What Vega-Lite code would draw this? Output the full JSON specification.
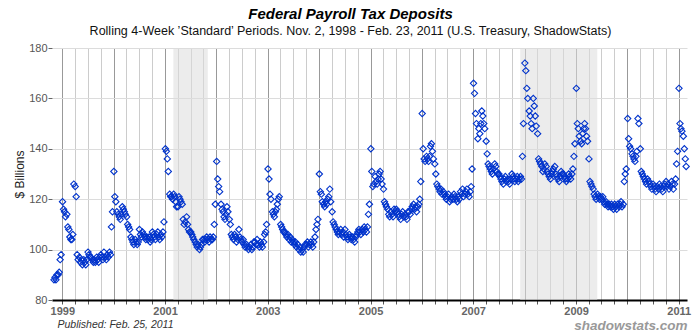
{
"$schema": "https://vega.github.io/schema/vega-lite/v6.json",
"width": 635, "height": 252,
"autosize": "none",
"padding": {"left": 52, "top": 48, "right": 13, "bottom": 35},
"background": "white",
"config": {"view": {"stroke": null}},
"title": {"text": "Federal Payroll Tax Deposits", "subtitle": "Rolling 4-Week ’Standard’ Periods. Nov. 2, 1998 - Feb. 23, 2011  (U.S. Treasury, ShadowStats)", "font": "Liberation Sans", "fontSize": 15, "fontStyle": "italic", "fontWeight": "bold", "color": "#000", "subtitleFont": "Liberation Sans", "subtitleFontSize": 12.5, "subtitleColor": "#111", "anchor": "middle", "frame": "group", "dx": -19, "offset": 5, "subtitlePadding": 3},
"datasets": {
"rec": [{"date": "2001-03-01", "end": "2001-11-01"}, {"date": "2007-12-01", "end": "2009-06-01"}],
"foot": [{"t": "shadowstats.com", "date": "2011-03-04", "value": 69.5}],
"pts": [
{"date":"1998-11-03","value":88},{"date":"1998-11-10","value":89},{"date":"1998-11-17","value":88},{"date":"1998-11-24","value":90},
{"date":"1998-12-03","value":90},{"date":"1998-12-10","value":91},{"date":"1998-12-17","value":96},{"date":"1998-12-24","value":98},
{"date":"1999-01-03","value":119},{"date":"1999-01-10","value":116},{"date":"1999-01-17","value":115},{"date":"1999-01-24","value":113},
{"date":"1999-02-03","value":114},{"date":"1999-02-10","value":109},{"date":"1999-02-17","value":108},{"date":"1999-02-24","value":105},
{"date":"1999-03-03","value":104},{"date":"1999-03-10","value":104},{"date":"1999-03-17","value":106},{"date":"1999-03-24","value":126},
{"date":"1999-04-03","value":125},{"date":"1999-04-10","value":121},{"date":"1999-04-17","value":98},{"date":"1999-04-24","value":96},
{"date":"1999-05-03","value":97},{"date":"1999-05-10","value":95},{"date":"1999-05-17","value":96},{"date":"1999-05-24","value":94},
{"date":"1999-06-03","value":96},{"date":"1999-06-10","value":95},{"date":"1999-06-17","value":94},{"date":"1999-06-24","value":96},
{"date":"1999-07-03","value":99},{"date":"1999-07-10","value":98},{"date":"1999-07-17","value":97},{"date":"1999-07-24","value":97},
{"date":"1999-08-03","value":96},{"date":"1999-08-10","value":95},{"date":"1999-08-17","value":96},{"date":"1999-08-24","value":95},
{"date":"1999-09-03","value":97},{"date":"1999-09-10","value":96},{"date":"1999-09-17","value":95},{"date":"1999-09-24","value":97},
{"date":"1999-10-03","value":98},{"date":"1999-10-10","value":97},{"date":"1999-10-17","value":96},{"date":"1999-10-24","value":99},
{"date":"1999-11-03","value":97},{"date":"1999-11-10","value":96},{"date":"1999-11-17","value":98},{"date":"1999-11-24","value":97},
{"date":"1999-12-03","value":99},{"date":"1999-12-10","value":98},{"date":"1999-12-17","value":109},{"date":"1999-12-24","value":115},
{"date":"2000-01-03","value":131},{"date":"2000-01-10","value":121},{"date":"2000-01-17","value":119},{"date":"2000-01-24","value":115},
{"date":"2000-02-03","value":114},{"date":"2000-02-10","value":113},{"date":"2000-02-17","value":112},{"date":"2000-02-24","value":114},
{"date":"2000-03-03","value":117},{"date":"2000-03-10","value":116},{"date":"2000-03-17","value":115},{"date":"2000-03-24","value":114},
{"date":"2000-04-03","value":113},{"date":"2000-04-10","value":110},{"date":"2000-04-17","value":109},{"date":"2000-04-24","value":108},
{"date":"2000-05-03","value":105},{"date":"2000-05-10","value":104},{"date":"2000-05-17","value":103},{"date":"2000-05-24","value":102},
{"date":"2000-06-03","value":104},{"date":"2000-06-10","value":103},{"date":"2000-06-17","value":102},{"date":"2000-06-24","value":103},
{"date":"2000-07-03","value":108},{"date":"2000-07-10","value":106},{"date":"2000-07-17","value":105},{"date":"2000-07-24","value":107},
{"date":"2000-08-03","value":106},{"date":"2000-08-10","value":105},{"date":"2000-08-17","value":104},{"date":"2000-08-24","value":105},
{"date":"2000-09-03","value":104},{"date":"2000-09-10","value":105},{"date":"2000-09-17","value":103},{"date":"2000-09-24","value":104},
{"date":"2000-10-03","value":107},{"date":"2000-10-10","value":106},{"date":"2000-10-17","value":105},{"date":"2000-10-24","value":104},
{"date":"2000-11-03","value":106},{"date":"2000-11-10","value":107},{"date":"2000-11-17","value":105},{"date":"2000-11-24","value":104},
{"date":"2000-12-03","value":106},{"date":"2000-12-10","value":105},{"date":"2000-12-17","value":107},{"date":"2000-12-24","value":111},
{"date":"2001-01-03","value":140},{"date":"2001-01-10","value":139},{"date":"2001-01-17","value":136},{"date":"2001-01-24","value":131},
{"date":"2001-02-03","value":122},{"date":"2001-02-10","value":121},{"date":"2001-02-17","value":121},{"date":"2001-02-24","value":120},
{"date":"2001-03-03","value":122},{"date":"2001-03-10","value":121},{"date":"2001-03-17","value":119},{"date":"2001-03-24","value":117},
{"date":"2001-04-03","value":117},{"date":"2001-04-10","value":121},{"date":"2001-04-17","value":120},{"date":"2001-04-24","value":119},
{"date":"2001-05-03","value":118},{"date":"2001-05-10","value":112},{"date":"2001-05-17","value":110},{"date":"2001-05-24","value":111},
{"date":"2001-06-03","value":113},{"date":"2001-06-10","value":110},{"date":"2001-06-17","value":108},{"date":"2001-06-24","value":107},
{"date":"2001-07-03","value":107},{"date":"2001-07-10","value":106},{"date":"2001-07-17","value":105},{"date":"2001-07-24","value":104},
{"date":"2001-08-03","value":103},{"date":"2001-08-10","value":102},{"date":"2001-08-17","value":101},{"date":"2001-08-24","value":102},
{"date":"2001-09-03","value":100},{"date":"2001-09-10","value":101},{"date":"2001-09-17","value":102},{"date":"2001-09-24","value":104},
{"date":"2001-10-03","value":104},{"date":"2001-10-10","value":103},{"date":"2001-10-17","value":104},{"date":"2001-10-24","value":105},
{"date":"2001-11-03","value":104},{"date":"2001-11-10","value":103},{"date":"2001-11-17","value":105},{"date":"2001-11-24","value":104},
{"date":"2001-12-03","value":104},{"date":"2001-12-10","value":105},{"date":"2001-12-17","value":110},{"date":"2001-12-24","value":118},
{"date":"2002-01-03","value":135},{"date":"2002-01-10","value":128},{"date":"2002-01-17","value":125},{"date":"2002-01-24","value":123},
{"date":"2002-02-03","value":118},{"date":"2002-02-10","value":116},{"date":"2002-02-17","value":115},{"date":"2002-02-24","value":113},
{"date":"2002-03-03","value":112},{"date":"2002-03-10","value":114},{"date":"2002-03-17","value":117},{"date":"2002-03-24","value":115},
{"date":"2002-04-03","value":112},{"date":"2002-04-10","value":110},{"date":"2002-04-17","value":106},{"date":"2002-04-24","value":105},
{"date":"2002-05-03","value":104},{"date":"2002-05-10","value":106},{"date":"2002-05-17","value":105},{"date":"2002-05-24","value":103},
{"date":"2002-06-03","value":104},{"date":"2002-06-10","value":108},{"date":"2002-06-17","value":105},{"date":"2002-06-24","value":104},
{"date":"2002-07-03","value":103},{"date":"2002-07-10","value":104},{"date":"2002-07-17","value":102},{"date":"2002-07-24","value":101},
{"date":"2002-08-03","value":102},{"date":"2002-08-10","value":101},{"date":"2002-08-17","value":100},{"date":"2002-08-24","value":101},
{"date":"2002-09-03","value":102},{"date":"2002-09-10","value":100},{"date":"2002-09-17","value":101},{"date":"2002-09-24","value":103},
{"date":"2002-10-03","value":103},{"date":"2002-10-10","value":102},{"date":"2002-10-17","value":104},{"date":"2002-10-24","value":102},
{"date":"2002-11-03","value":101},{"date":"2002-11-10","value":103},{"date":"2002-11-17","value":102},{"date":"2002-11-24","value":101},
{"date":"2002-12-03","value":103},{"date":"2002-12-10","value":106},{"date":"2002-12-17","value":107},{"date":"2002-12-24","value":110},
{"date":"2003-01-03","value":132},{"date":"2003-01-10","value":128},{"date":"2003-01-17","value":122},{"date":"2003-01-24","value":120},
{"date":"2003-02-03","value":115},{"date":"2003-02-10","value":114},{"date":"2003-02-17","value":113},{"date":"2003-02-24","value":115},
{"date":"2003-03-03","value":116},{"date":"2003-03-10","value":118},{"date":"2003-03-17","value":120},{"date":"2003-03-24","value":121},
{"date":"2003-04-03","value":110},{"date":"2003-04-10","value":109},{"date":"2003-04-17","value":108},{"date":"2003-04-24","value":107},
{"date":"2003-05-03","value":107},{"date":"2003-05-10","value":106},{"date":"2003-05-17","value":105},{"date":"2003-05-24","value":106},
{"date":"2003-06-03","value":104},{"date":"2003-06-10","value":105},{"date":"2003-06-17","value":103},{"date":"2003-06-24","value":104},
{"date":"2003-07-03","value":103},{"date":"2003-07-10","value":102},{"date":"2003-07-17","value":103},{"date":"2003-07-24","value":101},
{"date":"2003-08-03","value":102},{"date":"2003-08-10","value":100},{"date":"2003-08-17","value":101},{"date":"2003-08-24","value":99},
{"date":"2003-09-03","value":100},{"date":"2003-09-10","value":99},{"date":"2003-09-17","value":101},{"date":"2003-09-24","value":102},
{"date":"2003-10-03","value":102},{"date":"2003-10-10","value":103},{"date":"2003-10-17","value":101},{"date":"2003-10-24","value":102},
{"date":"2003-11-03","value":103},{"date":"2003-11-10","value":102},{"date":"2003-11-17","value":101},{"date":"2003-11-24","value":103},
{"date":"2003-12-03","value":105},{"date":"2003-12-10","value":108},{"date":"2003-12-17","value":110},{"date":"2003-12-24","value":112},
{"date":"2004-01-03","value":130},{"date":"2004-01-10","value":123},{"date":"2004-01-17","value":122},{"date":"2004-01-24","value":119},
{"date":"2004-02-03","value":118},{"date":"2004-02-10","value":117},{"date":"2004-02-17","value":119},{"date":"2004-02-24","value":118},
{"date":"2004-03-03","value":120},{"date":"2004-03-10","value":121},{"date":"2004-03-17","value":124},{"date":"2004-03-24","value":119},
{"date":"2004-04-03","value":115},{"date":"2004-04-10","value":111},{"date":"2004-04-17","value":110},{"date":"2004-04-24","value":109},
{"date":"2004-05-03","value":108},{"date":"2004-05-10","value":107},{"date":"2004-05-17","value":106},{"date":"2004-05-24","value":107},
{"date":"2004-06-03","value":108},{"date":"2004-06-10","value":106},{"date":"2004-06-17","value":107},{"date":"2004-06-24","value":105},
{"date":"2004-07-03","value":108},{"date":"2004-07-10","value":106},{"date":"2004-07-17","value":105},{"date":"2004-07-24","value":104},
{"date":"2004-08-03","value":106},{"date":"2004-08-10","value":105},{"date":"2004-08-17","value":104},{"date":"2004-08-24","value":105},
{"date":"2004-09-03","value":104},{"date":"2004-09-10","value":103},{"date":"2004-09-17","value":105},{"date":"2004-09-24","value":106},
{"date":"2004-10-03","value":107},{"date":"2004-10-10","value":108},{"date":"2004-10-17","value":107},{"date":"2004-10-24","value":106},
{"date":"2004-11-03","value":108},{"date":"2004-11-10","value":107},{"date":"2004-11-17","value":109},{"date":"2004-11-24","value":108},
{"date":"2004-12-03","value":107},{"date":"2004-12-10","value":109},{"date":"2004-12-17","value":114},{"date":"2004-12-24","value":118},
{"date":"2005-01-03","value":140},{"date":"2005-01-10","value":131},{"date":"2005-01-17","value":125},{"date":"2005-01-24","value":126},
{"date":"2005-02-03","value":129},{"date":"2005-02-10","value":127},{"date":"2005-02-17","value":126},{"date":"2005-02-24","value":128},
{"date":"2005-03-03","value":130},{"date":"2005-03-10","value":131},{"date":"2005-03-17","value":128},{"date":"2005-03-24","value":126},
{"date":"2005-04-03","value":124},{"date":"2005-04-10","value":119},{"date":"2005-04-17","value":118},{"date":"2005-04-24","value":117},
{"date":"2005-05-03","value":116},{"date":"2005-05-10","value":114},{"date":"2005-05-17","value":113},{"date":"2005-05-24","value":115},
{"date":"2005-06-03","value":114},{"date":"2005-06-10","value":113},{"date":"2005-06-17","value":116},{"date":"2005-06-24","value":115},
{"date":"2005-07-03","value":116},{"date":"2005-07-10","value":115},{"date":"2005-07-17","value":114},{"date":"2005-07-24","value":113},
{"date":"2005-08-03","value":112},{"date":"2005-08-10","value":114},{"date":"2005-08-17","value":115},{"date":"2005-08-24","value":113},
{"date":"2005-09-03","value":114},{"date":"2005-09-10","value":113},{"date":"2005-09-17","value":112},{"date":"2005-09-24","value":115},
{"date":"2005-10-03","value":115},{"date":"2005-10-10","value":114},{"date":"2005-10-17","value":116},{"date":"2005-10-24","value":117},
{"date":"2005-11-03","value":118},{"date":"2005-11-10","value":116},{"date":"2005-11-17","value":117},{"date":"2005-11-24","value":115},
{"date":"2005-12-03","value":117},{"date":"2005-12-10","value":118},{"date":"2005-12-17","value":120},{"date":"2005-12-24","value":127},
{"date":"2006-01-03","value":154},{"date":"2006-01-10","value":140},{"date":"2006-01-17","value":136},{"date":"2006-01-24","value":135},
{"date":"2006-02-03","value":137},{"date":"2006-02-10","value":136},{"date":"2006-02-17","value":135},{"date":"2006-02-24","value":137},
{"date":"2006-03-03","value":141},{"date":"2006-03-10","value":142},{"date":"2006-03-17","value":139},{"date":"2006-03-24","value":136},
{"date":"2006-04-03","value":134},{"date":"2006-04-10","value":130},{"date":"2006-04-17","value":126},{"date":"2006-04-24","value":125},
{"date":"2006-05-03","value":124},{"date":"2006-05-10","value":123},{"date":"2006-05-17","value":124},{"date":"2006-05-24","value":122},
{"date":"2006-06-03","value":123},{"date":"2006-06-10","value":122},{"date":"2006-06-17","value":121},{"date":"2006-06-24","value":120},
{"date":"2006-07-03","value":121},{"date":"2006-07-10","value":122},{"date":"2006-07-17","value":119},{"date":"2006-07-24","value":120},
{"date":"2006-08-03","value":121},{"date":"2006-08-10","value":120},{"date":"2006-08-17","value":122},{"date":"2006-08-24","value":121},
{"date":"2006-09-03","value":120},{"date":"2006-09-10","value":119},{"date":"2006-09-17","value":121},{"date":"2006-09-24","value":120},
{"date":"2006-10-03","value":123},{"date":"2006-10-10","value":122},{"date":"2006-10-17","value":124},{"date":"2006-10-24","value":121},
{"date":"2006-11-03","value":122},{"date":"2006-11-10","value":123},{"date":"2006-11-17","value":124},{"date":"2006-11-24","value":122},
{"date":"2006-12-03","value":121},{"date":"2006-12-10","value":123},{"date":"2006-12-17","value":125},{"date":"2006-12-24","value":132},
{"date":"2007-01-03","value":166},{"date":"2007-01-10","value":162},{"date":"2007-01-17","value":154},{"date":"2007-01-24","value":150},
{"date":"2007-02-03","value":144},{"date":"2007-02-10","value":148},{"date":"2007-02-17","value":146},{"date":"2007-02-24","value":150},
{"date":"2007-03-03","value":155},{"date":"2007-03-10","value":153},{"date":"2007-03-17","value":150},{"date":"2007-03-24","value":148},
{"date":"2007-04-03","value":143},{"date":"2007-04-10","value":138},{"date":"2007-04-17","value":134},{"date":"2007-04-24","value":133},
{"date":"2007-05-03","value":132},{"date":"2007-05-10","value":131},{"date":"2007-05-17","value":130},{"date":"2007-05-24","value":132},
{"date":"2007-06-03","value":134},{"date":"2007-06-10","value":133},{"date":"2007-06-17","value":131},{"date":"2007-06-24","value":130},
{"date":"2007-07-03","value":130},{"date":"2007-07-10","value":129},{"date":"2007-07-17","value":128},{"date":"2007-07-24","value":127},
{"date":"2007-08-03","value":126},{"date":"2007-08-10","value":128},{"date":"2007-08-17","value":129},{"date":"2007-08-24","value":127},
{"date":"2007-09-03","value":128},{"date":"2007-09-10","value":127},{"date":"2007-09-17","value":126},{"date":"2007-09-24","value":128},
{"date":"2007-10-03","value":130},{"date":"2007-10-10","value":129},{"date":"2007-10-17","value":128},{"date":"2007-10-24","value":127},
{"date":"2007-11-03","value":128},{"date":"2007-11-10","value":129},{"date":"2007-11-17","value":127},{"date":"2007-11-24","value":128},
{"date":"2007-12-03","value":129},{"date":"2007-12-10","value":128},{"date":"2007-12-17","value":137},{"date":"2007-12-24","value":150},
{"date":"2008-01-03","value":174},{"date":"2008-01-10","value":171},{"date":"2008-01-17","value":164},{"date":"2008-01-24","value":160},
{"date":"2008-02-03","value":155},{"date":"2008-02-10","value":153},{"date":"2008-02-17","value":150},{"date":"2008-02-24","value":148},
{"date":"2008-03-03","value":160},{"date":"2008-03-10","value":157},{"date":"2008-03-17","value":153},{"date":"2008-03-24","value":149},
{"date":"2008-04-03","value":146},{"date":"2008-04-10","value":136},{"date":"2008-04-17","value":135},{"date":"2008-04-24","value":134},
{"date":"2008-05-03","value":133},{"date":"2008-05-10","value":131},{"date":"2008-05-17","value":132},{"date":"2008-05-24","value":134},
{"date":"2008-06-03","value":133},{"date":"2008-06-10","value":131},{"date":"2008-06-17","value":130},{"date":"2008-06-24","value":129},
{"date":"2008-07-03","value":128},{"date":"2008-07-10","value":130},{"date":"2008-07-17","value":131},{"date":"2008-07-24","value":132},
{"date":"2008-08-03","value":133},{"date":"2008-08-10","value":130},{"date":"2008-08-17","value":129},{"date":"2008-08-24","value":128},
{"date":"2008-09-03","value":127},{"date":"2008-09-10","value":129},{"date":"2008-09-17","value":131},{"date":"2008-09-24","value":130},
{"date":"2008-10-03","value":130},{"date":"2008-10-10","value":129},{"date":"2008-10-17","value":128},{"date":"2008-10-24","value":127},
{"date":"2008-11-03","value":128},{"date":"2008-11-10","value":130},{"date":"2008-11-17","value":129},{"date":"2008-11-24","value":128},
{"date":"2008-12-03","value":130},{"date":"2008-12-10","value":132},{"date":"2008-12-17","value":137},{"date":"2008-12-24","value":142},
{"date":"2009-01-03","value":164},{"date":"2009-01-10","value":150},{"date":"2009-01-17","value":148},{"date":"2009-01-24","value":145},
{"date":"2009-02-03","value":143},{"date":"2009-02-10","value":142},{"date":"2009-02-17","value":146},{"date":"2009-02-24","value":148},
{"date":"2009-03-03","value":150},{"date":"2009-03-10","value":148},{"date":"2009-03-17","value":145},{"date":"2009-03-24","value":143},
{"date":"2009-04-03","value":136},{"date":"2009-04-10","value":127},{"date":"2009-04-17","value":126},{"date":"2009-04-24","value":125},
{"date":"2009-05-03","value":124},{"date":"2009-05-10","value":122},{"date":"2009-05-17","value":121},{"date":"2009-05-24","value":120},
{"date":"2009-06-03","value":122},{"date":"2009-06-10","value":121},{"date":"2009-06-17","value":120},{"date":"2009-06-24","value":121},
{"date":"2009-07-03","value":120},{"date":"2009-07-10","value":121},{"date":"2009-07-17","value":119},{"date":"2009-07-24","value":118},
{"date":"2009-08-03","value":119},{"date":"2009-08-10","value":118},{"date":"2009-08-17","value":117},{"date":"2009-08-24","value":118},
{"date":"2009-09-03","value":117},{"date":"2009-09-10","value":118},{"date":"2009-09-17","value":117},{"date":"2009-09-24","value":116},
{"date":"2009-10-03","value":118},{"date":"2009-10-10","value":117},{"date":"2009-10-17","value":116},{"date":"2009-10-24","value":118},
{"date":"2009-11-03","value":117},{"date":"2009-11-10","value":118},{"date":"2009-11-17","value":119},{"date":"2009-11-24","value":117},
{"date":"2009-12-03","value":118},{"date":"2009-12-10","value":127},{"date":"2009-12-17","value":130},{"date":"2009-12-24","value":132},
{"date":"2010-01-03","value":152},{"date":"2010-01-10","value":144},{"date":"2010-01-17","value":141},{"date":"2010-01-24","value":140},
{"date":"2010-02-03","value":138},{"date":"2010-02-10","value":137},{"date":"2010-02-17","value":136},{"date":"2010-02-24","value":135},
{"date":"2010-03-03","value":137},{"date":"2010-03-10","value":139},{"date":"2010-03-17","value":152},{"date":"2010-03-24","value":150},
{"date":"2010-04-03","value":140},{"date":"2010-04-10","value":131},{"date":"2010-04-17","value":130},{"date":"2010-04-24","value":129},
{"date":"2010-05-03","value":128},{"date":"2010-05-10","value":127},{"date":"2010-05-17","value":126},{"date":"2010-05-24","value":128},
{"date":"2010-06-03","value":127},{"date":"2010-06-10","value":126},{"date":"2010-06-17","value":125},{"date":"2010-06-24","value":124},
{"date":"2010-07-03","value":126},{"date":"2010-07-10","value":125},{"date":"2010-07-17","value":124},{"date":"2010-07-24","value":123},
{"date":"2010-08-03","value":125},{"date":"2010-08-10","value":124},{"date":"2010-08-17","value":126},{"date":"2010-08-24","value":125},
{"date":"2010-09-03","value":124},{"date":"2010-09-10","value":123},{"date":"2010-09-17","value":125},{"date":"2010-09-24","value":126},
{"date":"2010-10-03","value":127},{"date":"2010-10-10","value":125},{"date":"2010-10-17","value":126},{"date":"2010-10-24","value":124},
{"date":"2010-11-03","value":125},{"date":"2010-11-10","value":127},{"date":"2010-11-17","value":126},{"date":"2010-11-24","value":124},
{"date":"2010-12-03","value":126},{"date":"2010-12-10","value":128},{"date":"2010-12-17","value":134},{"date":"2010-12-24","value":139},
{"date":"2011-01-03","value":164},{"date":"2011-01-10","value":150},{"date":"2011-01-17","value":148},{"date":"2011-01-24","value":147},
{"date":"2011-02-03","value":145},{"date":"2011-02-10","value":140},{"date":"2011-02-17","value":136},{"date":"2011-02-23","value":133}
]},
"encoding": {
"x": {"field": "date", "type": "temporal",
 "scale": {"domain": [{"year": 1998, "month": 10, "date": 20}, {"year": 2011, "month": 3, "date": 1}]},
 "axis": {"title": "Published: Feb. 25, 2011", "titleAnchor": "start", "titleAlign": "left", "titleFont": "Liberation Sans", "titleFontSize": 10.5, "titleFontStyle": "italic", "titleFontWeight": "normal", "titleColor": "#333333", "titlePadding": 3, "titleX": 5,
  "values": [{"year":1999,"month":1,"date":1},{"year":1999,"month":4,"date":1},{"year":1999,"month":7,"date":1},{"year":1999,"month":10,"date":1},
   {"year":2000,"month":1,"date":1},{"year":2000,"month":4,"date":1},{"year":2000,"month":7,"date":1},{"year":2000,"month":10,"date":1},
   {"year":2001,"month":1,"date":1},{"year":2001,"month":4,"date":1},{"year":2001,"month":7,"date":1},{"year":2001,"month":10,"date":1},
   {"year":2002,"month":1,"date":1},{"year":2002,"month":4,"date":1},{"year":2002,"month":7,"date":1},{"year":2002,"month":10,"date":1},
   {"year":2003,"month":1,"date":1},{"year":2003,"month":4,"date":1},{"year":2003,"month":7,"date":1},{"year":2003,"month":10,"date":1},
   {"year":2004,"month":1,"date":1},{"year":2004,"month":4,"date":1},{"year":2004,"month":7,"date":1},{"year":2004,"month":10,"date":1},
   {"year":2005,"month":1,"date":1},{"year":2005,"month":4,"date":1},{"year":2005,"month":7,"date":1},{"year":2005,"month":10,"date":1},
   {"year":2006,"month":1,"date":1},{"year":2006,"month":4,"date":1},{"year":2006,"month":7,"date":1},{"year":2006,"month":10,"date":1},
   {"year":2007,"month":1,"date":1},{"year":2007,"month":4,"date":1},{"year":2007,"month":7,"date":1},{"year":2007,"month":10,"date":1},
   {"year":2008,"month":1,"date":1},{"year":2008,"month":4,"date":1},{"year":2008,"month":7,"date":1},{"year":2008,"month":10,"date":1},
   {"year":2009,"month":1,"date":1},{"year":2009,"month":4,"date":1},{"year":2009,"month":7,"date":1},{"year":2009,"month":10,"date":1},
   {"year":2010,"month":1,"date":1},{"year":2010,"month":4,"date":1},{"year":2010,"month":7,"date":1},{"year":2010,"month":10,"date":1},
   {"year":2011,"month":1,"date":1}],
  "labelExpr": "month(datum.value) == 0 && year(datum.value) % 2 == 1 ? timeFormat(datum.value, '%Y') : ''",
  "grid": true,
  "gridColor": {"condition": {"test": "month(datum.value) == 0", "value": "#999999"}, "value": "#cccccc"},
  "gridWidth": 1,
  "domainColor": "#000000", "domainWidth": 2,
  "tickColor": "#555555", "tickSize": 4,
  "labelFont": "Liberation Sans", "labelFontSize": 11, "labelFontWeight": "bold", "labelColor": "#666666",
  "labelPadding": 1, "labelOverlap": false, "labelFlush": false}}
},
"layer": [
 {"data": {"name": "rec"}, "mark": {"type": "rect", "color": "#dddddd", "opacity": 0.55},
  "encoding": {"x2": {"field": "end"}}},
 {"data": {"name": "pts"}, "mark": {"type": "point", "shape": "diamond", "filled": false, "color": "#0033cc", "size": 40, "strokeWidth": 1.1, "opacity": 1},
  "encoding": {"y": {"field": "value", "type": "quantitative",
   "scale": {"domain": [80, 180], "nice": false, "zero": false},
   "axis": {"values": [80, 90, 100, 110, 120, 130, 140, 150, 160, 170, 180], "grid": true, "gridColor": "#dcdcdc", "domain": false,
    "tickColor": "#666666", "tickSize": 4, "labelFont": "Liberation Sans", "labelFontSize": 11, "labelColor": "#555555", "labelPadding": 1,
    "title": "$ Billions", "titleFont": "Liberation Sans", "titleFontSize": 12, "titleFontWeight": "normal", "titleColor": "#222222", "titlePadding": 2}}}},
 {"data": {"name": "foot"},
  "mark": {"type": "text", "align": "right", "baseline": "middle", "font": "Liberation Sans", "fontSize": 13.5, "fontStyle": "italic", "fontWeight": "bold", "color": "#999999", "clip": false},
  "encoding": {"y": {"field": "value", "type": "quantitative"}, "text": {"field": "t"}}}
]
}
